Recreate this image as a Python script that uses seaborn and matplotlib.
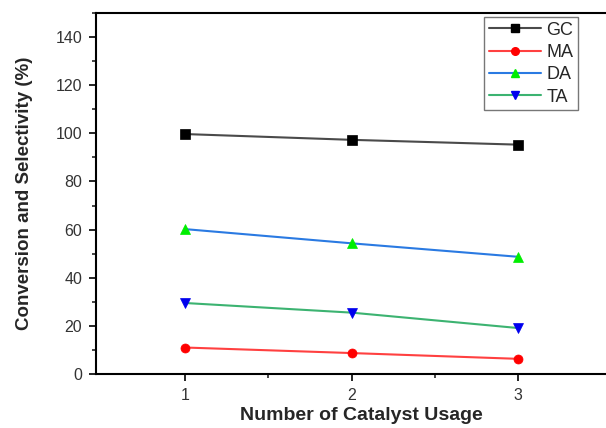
import matplotlib
matplotlib.use("Agg")
import matplotlib.pyplot as plt
import seaborn as sns
import pandas as pd
from matplotlib.ticker import FixedLocator, MultipleLocator
from matplotlib.lines import Line2D

usage = [1, 2, 3]
gc = [99.7, 97.3, 95.3]
ma = [11.0, 8.7, 6.3]
da = [60.2, 54.3, 48.7]
ta = [29.5, 25.5, 19.1]

sns.set_style("ticks")
plt.rcParams['font.family'] = ['Liberation Sans', 'DejaVu Sans']

fig = plt.figure(figsize=(6.06, 4.28), dpi=100)
ax = fig.add_axes([96/606, 54/428, 530/606, 361/428])

series = [
    ("GC", gc, "#4a4a4a", "s", "black", "black"),
    ("MA", ma, "#ff4040", "o", "red", "red"),
    ("DA", da, "#2a7ae2", "^", "#00ee00", "#00ee00"),
    ("TA", ta, "#3cb371", "v", "#0000ee", "#0000ee"),
]
handles = []
for name, vals, lc, mk, mfc, mec in series:
    df = pd.DataFrame({"x": usage, "y": vals})
    sns.lineplot(data=df, x="x", y="y", ax=ax, color=lc, linewidth=1.5,
                 marker=mk, markersize=6.5, markerfacecolor=mfc,
                 markeredgecolor=mec, markeredgewidth=0.5, legend=False)
    handles.append(Line2D([0], [0], color=lc, linewidth=1.5, marker=mk,
                          markersize=5.5, markerfacecolor=mfc,
                          markeredgecolor=mec, label=name))

ax.set_xlim(0.465, 0.465 + 530/166.5)
ax.set_ylim(0, 150)
ax.set_xticks([1, 2, 3])
ax.set_yticks(range(0, 141, 20))
ax.xaxis.set_minor_locator(FixedLocator([1.5, 2.5]))
ax.yaxis.set_minor_locator(MultipleLocator(10))
ax.tick_params(axis='both', which='major', direction='out', length=5, width=1.2,
               labelsize=11.5, colors='black', labelcolor='#333333', pad=5)
ax.tick_params(axis='both', which='minor', direction='out', length=3, width=1.2)
for s in ax.spines.values():
    s.set_linewidth(1.5)
    s.set_color('black')

ax.set_xlabel("Number of Catalyst Usage", fontsize=14, fontweight='bold', labelpad=3)
ax.set_ylabel("Conversion and Selectivity (%)", fontsize=13.5, fontweight='bold', labelpad=16)

leg = ax.legend(handles=handles, loc='upper left', bbox_to_anchor=(388/530, 1 - 4/361),
                fontsize=13, frameon=True, fancybox=False, edgecolor='#555555',
                handlelength=2.9, handletextpad=0.3, labelspacing=0.3,
                borderpad=0.25, borderaxespad=0)
leg.get_frame().set_linewidth(1.0)

fig.savefig("out.png", dpi=100)
